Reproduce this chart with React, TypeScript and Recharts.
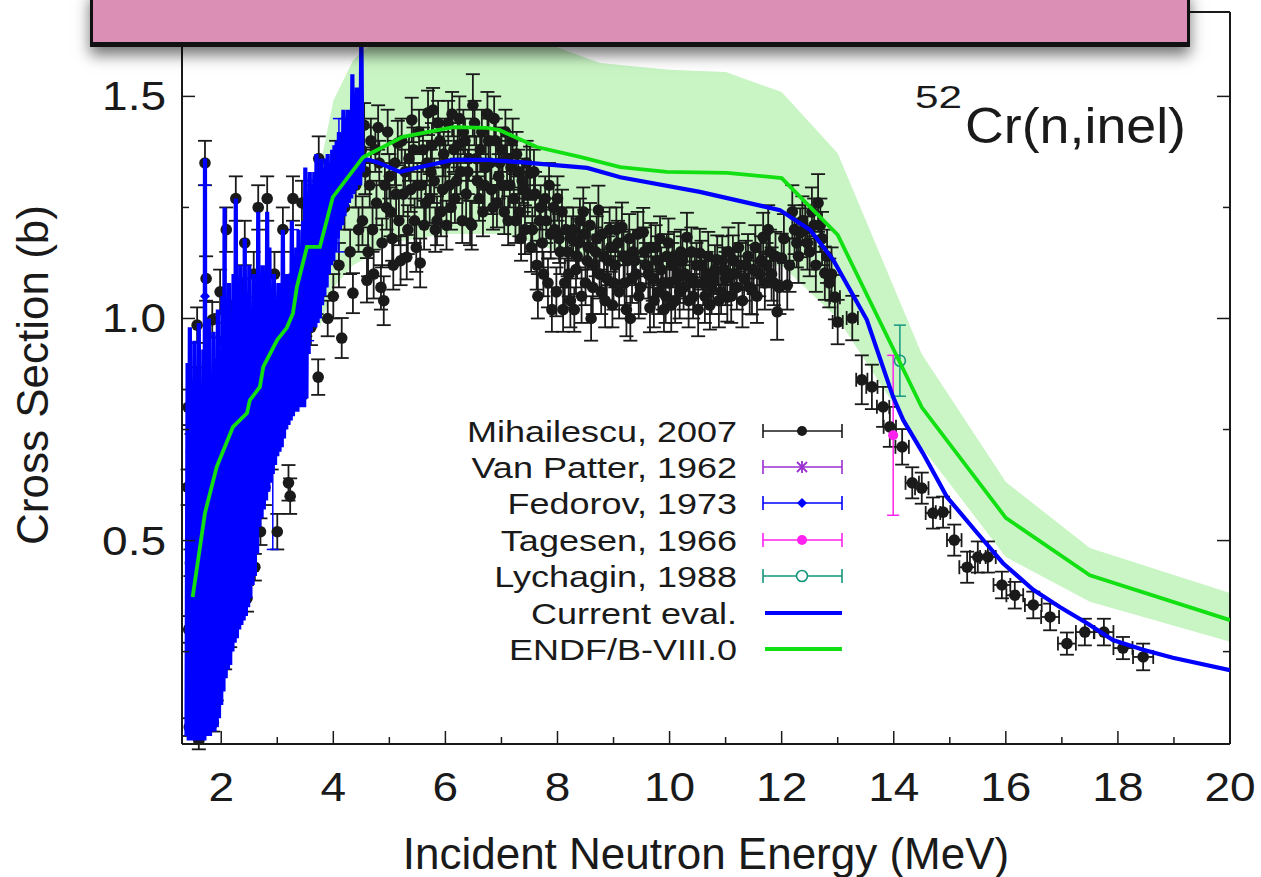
import React from "react";
import {
  Area,
  ComposedChart,
  ErrorBar,
  Legend,
  Line,
  Scatter,
  XAxis,
  YAxis,
} from "recharts";

const FONT = '"Liberation Sans", Arial, Helvetica, sans-serif';
const INK = "#1a1a1a";
const BLUE = "#0000ff";
const GREEN = "#12e012";
const BAND = "#c9f5c5";
const PURPLE = "#9a2fd0";
const MAGENTA = "#ff22ee";
const TEAL = "#14977c";

// axes
const X_DOMAIN = [1.3, 20];
const Y_DOMAIN = [0.042, 1.69];
const X_TICKS = [2, 3, 4, 5, 6, 7, 8, 9, 10, 11, 12, 13, 14, 15, 16, 17, 18, 19, 20];
const X_LABELS = [2, 4, 6, 8, 10, 12, 14, 16, 18, 20];
const Y_TICKS = [0.25, 0.5, 0.75, 1.0, 1.25, 1.5];
const Y_LABELS = [0.5, 1.0, 1.5];

// ENDF/B-VIII.0 uncertainty band
const BAND_E = [3.76, 4.0, 4.35, 4.5, 5.0, 5.5, 6.0, 7.0, 7.6, 8.0, 8.76, 10.0, 11.0, 12.0, 13.0, 14.5, 16.0, 17.5, 20.0];
const BAND_LO = [0.98, 1.07, 1.12, 1.13, 1.17, 1.18, 1.19, 1.19, 1.17, 1.15, 1.13, 1.11, 1.11, 1.12, 1.0, 0.71, 0.463, 0.362, 0.272];
const BAND_HI = [1.34, 1.49, 1.58, 1.6, 1.64, 1.66, 1.69, 1.68, 1.63, 1.61, 1.575, 1.56, 1.555, 1.51, 1.372, 0.92, 0.632, 0.483, 0.382];

// ENDF/B-VIII.0
const ENDF_E = [1.49, 1.71, 1.92, 2.21, 2.46, 2.51, 2.69, 2.75, 3.0, 3.17, 3.28, 3.35, 3.53, 3.76, 3.99, 4.53, 5.24, 6.14, 6.74, 6.97, 7.63, 8.4, 9.12, 9.95, 11.03, 12.0, 13.0, 14.5, 16.0, 17.5, 20.0];
const ENDF_XS = [0.373, 0.562, 0.666, 0.756, 0.787, 0.816, 0.846, 0.891, 0.952, 0.979, 1.012, 1.071, 1.161, 1.161, 1.273, 1.363, 1.409, 1.431, 1.429, 1.424, 1.386, 1.364, 1.341, 1.33, 1.328, 1.316, 1.188, 0.8, 0.551, 0.422, 0.321];

// Current evaluation (fluctuating below 4.5 MeV)
const CUR_E = [
  1.38, 1.4, 1.42, 1.44, 1.46, 1.48, 1.5, 1.52, 1.54, 1.56, 1.58, 1.6, 1.62, 1.64, 1.66, 1.68, 1.7, 1.71, 1.72, 1.74,
  1.76, 1.78, 1.8, 1.82, 1.84, 1.86, 1.88, 1.9, 1.92, 1.94, 1.96, 1.98, 2.0, 2.02, 2.04, 2.06, 2.08, 2.1, 2.12, 2.14,
  2.16, 2.18, 2.2, 2.22, 2.24, 2.26, 2.28, 2.3, 2.32, 2.34, 2.36, 2.38, 2.4, 2.42, 2.44, 2.46, 2.48, 2.5, 2.52, 2.54,
  2.56, 2.58, 2.6, 2.62, 2.64, 2.66, 2.68, 2.7, 2.72, 2.74, 2.76, 2.78, 2.8, 2.82, 2.84, 2.86, 2.88, 2.9, 2.92, 2.94,
  2.96, 2.98, 3.0, 3.02, 3.04, 3.06, 3.08, 3.1, 3.12, 3.14, 3.16, 3.18, 3.2, 3.22, 3.24, 3.26, 3.28, 3.3, 3.32, 3.34,
  3.36, 3.38, 3.4, 3.42, 3.44, 3.46, 3.48, 3.5, 3.52, 3.54, 3.56, 3.58, 3.6, 3.62, 3.64, 3.66, 3.68, 3.7, 3.72, 3.74,
  3.76, 3.78, 3.8, 3.82, 3.84, 3.86, 3.88, 3.9, 3.92, 3.94, 3.96, 3.98, 4.0, 4.02, 4.04, 4.06, 4.08, 4.1, 4.12, 4.14,
  4.16, 4.18, 4.2, 4.22, 4.24, 4.26, 4.28, 4.3, 4.32, 4.34, 4.36, 4.38, 4.4, 4.42, 4.44, 4.46, 4.48, 4.5, 4.52,
  4.55, 4.78, 5.19, 5.55, 6.14, 6.74, 7.33, 8.53, 9.12, 10.54, 11.97, 12.51, 12.92, 13.52, 13.99, 14.17, 14.52, 14.95,
  15.49, 15.95, 16.49, 16.97, 17.45, 17.91, 18.45, 18.98, 20.0,
];
const CUR_XS = [
  0.06, 0.9, 0.05, 0.98, 0.05, 0.76, 0.05, 0.95, 0.05, 0.86, 0.05, 0.99, 0.05, 0.82, 0.05, 0.93, 0.05, 1.36, 0.06, 0.88,
  0.06, 1.0, 0.06, 0.86, 0.07, 0.97, 0.07, 0.91, 0.08, 1.02, 0.1, 0.93, 0.13, 1.05, 0.16, 1.25, 0.19, 0.98, 0.21, 1.08,
  0.22, 0.96, 0.25, 1.1, 0.27, 1.27, 0.28, 1.02, 0.3, 1.12, 0.31, 0.99, 0.32, 1.18, 0.33, 1.05, 0.35, 1.12, 0.37, 0.98,
  0.4, 1.1, 0.42, 1.0, 0.47, 1.24, 0.53, 1.05, 0.55, 1.12, 0.57, 1.02, 0.59, 1.24, 0.61, 1.16, 0.63, 1.03, 0.65, 1.1,
  0.67, 1.0, 0.69, 1.08, 0.7, 1.02, 0.71, 1.2, 0.73, 1.05, 0.75, 1.1, 0.76, 1.04, 0.77, 1.22, 0.78, 1.12, 0.79, 1.16,
  0.79, 1.2, 0.8, 1.16, 0.8, 1.22, 0.8, 1.34, 0.82, 1.27, 0.92, 1.33, 0.97, 1.3, 0.98, 1.33, 0.98, 1.37, 0.99, 1.32,
  1.0, 1.36, 1.03, 1.34, 1.05, 1.36, 1.07, 1.37, 1.1, 1.35, 1.12, 1.38, 1.13, 1.39, 1.15, 1.4, 1.18, 1.42, 1.2, 1.41,
  1.21, 1.47, 1.23, 1.45, 1.25, 1.47, 1.26, 1.47, 1.27, 1.55, 1.28, 1.5, 1.29, 1.52, 1.3, 1.5, 1.3, 1.65, 1.33,
  1.36, 1.352, 1.33, 1.341, 1.357, 1.357, 1.352, 1.339, 1.318, 1.285, 1.244, 1.199, 1.132, 0.997, 0.823, 0.771, 0.697, 0.598,
  0.517, 0.449, 0.389, 0.35, 0.314, 0.276, 0.254, 0.236, 0.208,
];

// Mihailescu, 2007 (below 12.9 MeV, y errors only visible)
const MIH_E = [
  1.4, 1.41, 1.42, 1.43, 1.45, 1.47, 1.5, 1.52, 1.55, 1.57, 1.6, 1.62, 1.65, 1.68, 1.71, 1.73, 1.76, 1.79, 1.82, 1.84,
  1.86, 1.89, 1.92, 1.95, 1.98, 2.01, 2.04, 2.07, 2.09, 2.12, 2.16, 2.19, 2.22, 2.26, 2.3, 2.34, 2.38, 2.42, 2.46, 2.5,
  2.54, 2.58, 2.6, 2.63, 2.66, 2.7, 2.73, 2.78, 2.82, 2.86, 2.9, 2.95, 3.0, 3.05, 3.1, 3.15, 3.2, 3.23, 3.28, 3.33,
  3.38, 3.41, 3.44, 3.5, 3.55, 3.6, 3.65, 3.7, 3.73, 3.74, 3.76, 3.8, 3.85, 3.9, 3.95, 4.0, 4.05, 4.1, 4.15, 4.2,
  4.25, 4.3, 4.35, 4.4, 4.45, 4.5, 4.55, 4.6, 4.65, 4.7, 4.75, 4.8, 4.85, 4.9, 4.95, 5.0, 5.05, 5.1, 5.15, 5.2,
  5.25, 5.31, 5.35, 5.4, 5.45, 5.5, 5.55, 5.6, 5.65, 5.69, 5.74, 5.78, 5.82, 5.85, 5.9, 5.95, 6.0, 6.05, 6.1, 6.15,
  6.2, 6.25, 6.3, 6.35, 6.4, 6.44, 6.49, 6.55, 6.6, 6.65, 6.7, 6.75, 6.8, 6.85, 6.9, 6.95, 7.0, 7.05, 7.1, 7.15,
  7.2, 7.25, 7.3, 7.35, 7.4, 7.45, 7.51, 7.55, 7.6, 7.65, 7.7, 7.75, 7.8, 7.85, 7.9, 7.95, 8.0, 8.05, 8.1, 8.15,
  8.2, 8.25, 8.3, 8.35, 8.4, 8.46, 8.5, 8.55, 8.6, 8.65, 8.7, 8.73, 8.78, 8.83, 8.88, 8.93, 8.98, 9.03, 9.08, 9.15,
  9.2, 9.25, 9.3, 9.35, 9.4, 9.45, 9.53, 9.58, 9.65, 9.7, 9.75, 9.8, 9.85, 9.9, 9.95, 10.0, 10.05, 10.1, 10.15, 10.2,
  10.25, 10.31, 10.36, 10.42, 10.48, 10.54, 10.6, 10.66, 10.72, 10.78, 10.85, 10.92, 10.97, 11.03, 11.08, 11.13, 11.2, 11.27, 11.33, 11.4,
  11.47, 11.53, 11.6, 11.67, 11.73, 11.79, 11.86, 11.92, 12.0, 12.1, 12.19, 12.27, 12.33, 12.42, 12.5, 12.58, 12.65, 12.72, 12.77, 12.85,
];
const MIH_XS = [
  0.62, 0.8, 0.3, 0.08, 0.45, 0.7, 0.12, 0.55, 0.85, 0.985, 0.05, 0.4, 0.75, 0.2, 1.35, 1.09, 0.65, 0.1, 0.5, 0.997,
  0.09, 0.8, 0.16, 0.6, 1.06, 0.7, 0.95, 0.23, 1.2, 0.85, 0.29, 1.0, 0.55, 1.27, 0.9, 0.45, 1.05, 1.17, 0.37, 0.95,
  0.7, 1.1, 0.44, 0.8, 1.25, 0.52, 1.0, 0.62, 1.27, 0.9, 0.7, 1.1, 0.52, 0.85, 1.2, 0.95, 0.63, 0.6, 1.27, 1.05,
  0.9, 0.86, 1.26, 1.0, 1.15, 0.98, 1.25, 1.05, 0.868, 1.36, 1.2, 1.1, 1.3, 1.0, 1.18, 1.05, 1.35, 1.12, 0.956, 1.25,
  1.4, 1.15, 1.057, 1.3, 1.2, 1.38, 1.435, 1.086, 1.3, 1.2, 1.38, 1.43, 1.07, 1.04, 1.25, 1.32, 1.18, 1.35, 1.395, 1.13,
  1.28, 1.138, 1.36, 1.447, 1.22, 1.3, 1.125, 1.38, 1.26, 1.463, 1.33, 1.469, 1.2, 1.22, 1.4, 1.29, 1.35, 1.44, 1.25, 1.38,
  1.31, 1.45, 1.22, 1.4, 1.33, 1.215, 1.48, 1.36, 1.27, 1.42, 1.3, 1.46, 1.35, 1.25, 1.4, 1.32, 1.38, 1.24, 1.36, 1.3,
  1.4, 1.22, 1.33, 1.18, 1.29, 1.35, 1.327, 1.2, 1.28, 1.05, 1.25, 1.1, 1.22, 1.3, 1.02, 1.2, 1.27, 1.15, 1.02, 1.2,
  1.1, 1.18, 1.02, 1.14, 1.22, 1.24, 1.08, 1.16, 1.0, 1.12, 1.18, 1.244, 1.06, 1.14, 1.09, 1.2, 1.03, 1.12, 1.17, 1.206,
  1.08, 1.13, 1.0, 1.15, 1.1, 1.05, 1.194, 1.12, 1.024, 1.09, 1.16, 1.06, 1.11, 1.02, 1.14, 1.08, 1.12, 1.04, 1.1, 1.15,
  1.07, 1.183, 1.09, 1.05, 1.12, 1.147, 1.08, 1.1, 1.03, 1.09, 1.132, 1.06, 1.11, 1.048, 1.1, 1.132, 1.07, 1.12, 1.09, 1.14,
  1.064, 1.16, 1.1, 1.183, 1.12, 1.15, 1.08, 1.015, 1.136, 1.075, 1.24, 1.17, 1.193, 1.2, 1.15, 1.21, 1.26, 1.18, 1.102, 1.08,
];
const MIH_DY = [
  0.04, 0.04, 0.03, 0.02, 0.03, 0.04, 0.02, 0.03, 0.04, 0.04, 0.02, 0.03, 0.04, 0.02, 0.05, 0.05, 0.04, 0.02, 0.03, 0.04,
  0.02, 0.04, 0.02, 0.03, 0.05, 0.04, 0.04, 0.02, 0.05, 0.04, 0.03, 0.04, 0.03, 0.05, 0.04, 0.03, 0.04, 0.05, 0.03, 0.04,
  0.04, 0.05, 0.03, 0.04, 0.05, 0.03, 0.04, 0.04, 0.05, 0.04, 0.04, 0.05, 0.04, 0.04, 0.05, 0.04, 0.04, 0.04, 0.05, 0.05,
  0.04, 0.04, 0.05, 0.04, 0.05, 0.04, 0.05, 0.04, 0.04, 0.05, 0.05, 0.05, 0.05, 0.04, 0.05, 0.05, 0.05, 0.05, 0.045, 0.05,
  0.05, 0.05, 0.045, 0.05, 0.05, 0.05, 0.05, 0.05, 0.05, 0.05, 0.05, 0.05, 0.05, 0.055, 0.05, 0.05, 0.05, 0.05, 0.05, 0.055,
  0.05, 0.05, 0.05, 0.05, 0.05, 0.05, 0.055, 0.05, 0.05, 0.05, 0.05, 0.05, 0.05, 0.055, 0.05, 0.05, 0.05, 0.05, 0.05, 0.05,
  0.05, 0.05, 0.05, 0.05, 0.05, 0.05, 0.07, 0.05, 0.05, 0.05, 0.05, 0.05, 0.05, 0.05, 0.05, 0.05, 0.05, 0.05, 0.05, 0.05,
  0.05, 0.05, 0.05, 0.05, 0.05, 0.05, 0.06, 0.05, 0.05, 0.05, 0.05, 0.05, 0.05, 0.05, 0.05, 0.05, 0.05, 0.05, 0.05, 0.05,
  0.05, 0.05, 0.05, 0.05, 0.05, 0.055, 0.05, 0.05, 0.05, 0.05, 0.05, 0.055, 0.05, 0.05, 0.05, 0.05, 0.05, 0.05, 0.05, 0.055,
  0.05, 0.05, 0.05, 0.05, 0.05, 0.05, 0.055, 0.05, 0.055, 0.05, 0.05, 0.05, 0.05, 0.05, 0.05, 0.05, 0.05, 0.05, 0.05, 0.05,
  0.05, 0.055, 0.05, 0.05, 0.05, 0.055, 0.05, 0.05, 0.055, 0.05, 0.055, 0.05, 0.05, 0.055, 0.05, 0.055, 0.05, 0.05, 0.05, 0.05,
  0.055, 0.05, 0.05, 0.055, 0.05, 0.05, 0.05, 0.063, 0.055, 0.055, 0.06, 0.055, 0.055, 0.055, 0.055, 0.06, 0.065, 0.06, 0.06, 0.055,
];

// Mihailescu, 2007 (second run of points filling the 4.5-12.9 MeV cluster)
const MIH2_E = [
  4.52, 4.57, 4.62, 4.67, 4.72, 4.77, 4.82, 4.87, 4.92, 4.97, 5.02, 5.07, 5.12, 5.17, 5.22, 5.28, 5.33, 5.38, 5.43, 5.48,
  5.53, 5.57, 5.62, 5.67, 5.72, 5.76, 5.8, 5.87, 5.92, 5.97, 6.02, 6.07, 6.12, 6.17, 6.22, 6.27, 6.32, 6.37, 6.42, 6.47,
  6.52, 6.57, 6.62, 6.67, 6.72, 6.77, 6.82, 6.87, 6.92, 6.97, 7.02, 7.07, 7.12, 7.17, 7.22, 7.27, 7.32, 7.37, 7.42, 7.47,
  7.53, 7.58, 7.63, 7.68, 7.73, 7.78, 7.83, 7.88, 7.93, 7.98, 8.03, 8.08, 8.13, 8.18, 8.23, 8.28, 8.33, 8.38, 8.43, 8.48,
  8.53, 8.58, 8.63, 8.68, 8.75, 8.8, 8.85, 8.9, 8.95, 9.0, 9.05, 9.1, 9.18, 9.23, 9.28, 9.33, 9.38, 9.43, 9.48, 9.55,
  9.62, 9.67, 9.72, 9.78, 9.83, 9.88, 9.93, 9.98, 10.03, 10.08, 10.13, 10.18, 10.23, 10.28, 10.34, 10.39, 10.45, 10.51, 10.57, 10.63,
  10.69, 10.75, 10.81, 10.88, 10.94, 11.0, 11.05, 11.1, 11.16, 11.23, 11.3, 11.36, 11.43, 11.5, 11.56, 11.63, 11.7, 11.76, 11.82, 11.89,
  11.96, 12.04, 12.14, 12.23, 12.3, 12.37, 12.46, 12.54, 12.61, 12.69, 12.81, 12.89,
];
const MIH2_XS = [
  1.22, 1.33, 1.15, 1.4, 1.1, 1.26, 1.35, 1.17, 1.3, 1.42, 1.24, 1.12, 1.28, 1.22, 1.4, 1.33, 1.2, 1.29, 1.38, 1.16,
  1.42, 1.3, 1.21, 1.35, 1.27, 1.39, 1.31, 1.44, 1.24, 1.37, 1.21, 1.3, 1.46, 1.27, 1.39, 1.33, 1.42, 1.28, 1.36, 1.21,
  1.44, 1.31, 1.38, 1.24, 1.34, 1.4, 1.29, 1.45, 1.26, 1.35, 1.3, 1.42, 1.22, 1.34, 1.27, 1.37, 1.24, 1.31, 1.2, 1.28,
  1.16, 1.33, 1.12, 1.22, 1.17, 1.27, 1.08, 1.19, 1.25, 1.06, 1.18, 1.24, 1.08, 1.15, 1.04, 1.2, 1.11, 1.17, 1.05, 1.19,
  1.13, 1.21, 1.07, 1.15, 1.1, 1.19, 1.04, 1.13, 1.16, 1.08, 1.2, 1.06, 1.14, 1.02, 1.18, 1.09, 1.13, 1.19, 1.07, 1.15,
  1.1, 1.16, 1.04, 1.13, 1.18, 1.08, 1.05, 1.17, 1.03, 1.14, 1.09, 1.06, 1.13, 1.1, 1.04, 1.15, 1.08, 1.02, 1.12, 1.05,
  1.14, 1.07, 1.11, 1.04, 1.13, 1.09, 1.15, 1.05, 1.1, 1.16, 1.04, 1.12, 1.07, 1.11, 1.05, 1.13, 1.08, 1.2, 1.1, 1.14,
  1.07, 1.18, 1.12, 1.2, 1.14, 1.22, 1.17, 1.24, 1.12, 1.21, 1.14, 1.1,
];
const MIH2_DY = [
  0.055, 0.05, 0.055, 0.05, 0.055, 0.05, 0.05, 0.055, 0.05, 0.05, 0.055, 0.055, 0.05, 0.055, 0.05, 0.05, 0.055, 0.05, 0.05, 0.055,
  0.05, 0.05, 0.055, 0.05, 0.055, 0.05, 0.05, 0.05, 0.055, 0.05, 0.055, 0.05, 0.05, 0.055, 0.05, 0.05, 0.05, 0.055, 0.05, 0.055,
  0.05, 0.05, 0.05, 0.055, 0.05, 0.05, 0.055, 0.05, 0.055, 0.05, 0.05, 0.05, 0.055, 0.05, 0.055, 0.05, 0.055, 0.05, 0.055, 0.05,
  0.055, 0.05, 0.055, 0.055, 0.055, 0.05, 0.055, 0.055, 0.05, 0.055, 0.055, 0.05, 0.055, 0.055, 0.06, 0.05, 0.055, 0.055, 0.06, 0.055,
  0.055, 0.05, 0.06, 0.055, 0.055, 0.05, 0.06, 0.055, 0.055, 0.06, 0.05, 0.06, 0.055, 0.06, 0.055, 0.055, 0.055, 0.05, 0.06, 0.055,
  0.055, 0.055, 0.06, 0.055, 0.05, 0.06, 0.06, 0.055, 0.06, 0.055, 0.055, 0.06, 0.055, 0.055, 0.06, 0.055, 0.06, 0.06, 0.055, 0.06,
  0.055, 0.06, 0.055, 0.06, 0.055, 0.06, 0.055, 0.06, 0.055, 0.055, 0.06, 0.055, 0.06, 0.055, 0.06, 0.055, 0.06, 0.055, 0.06, 0.055,
  0.06, 0.055, 0.06, 0.055, 0.06, 0.055, 0.06, 0.055, 0.06, 0.06, 0.06, 0.06,
];

// Mihailescu, 2007 (high-energy tail with x errors)
const MIHT_E = [12.95, 13.0, 13.26, 13.43, 13.61, 13.81, 13.93, 14.15, 14.33, 14.5, 14.7, 14.88, 15.08, 15.31, 15.5, 15.68, 15.93, 16.16, 16.49, 16.79, 17.09, 17.41, 17.75, 18.09, 18.45];
const MIHT_XS = [1.048, 0.992, 1.001, 0.862, 0.846, 0.801, 0.756, 0.711, 0.63, 0.618, 0.562, 0.564, 0.501, 0.44, 0.463, 0.463, 0.4, 0.377, 0.355, 0.328, 0.268, 0.294, 0.294, 0.258, 0.238];
const MIHT_DY = [0.05, 0.05, 0.05, 0.055, 0.05, 0.045, 0.045, 0.04, 0.035, 0.035, 0.035, 0.035, 0.035, 0.035, 0.035, 0.035, 0.03, 0.03, 0.03, 0.03, 0.025, 0.03, 0.03, 0.025, 0.03];
const MIHT_DX = [0.09, 0.09, 0.1, 0.1, 0.1, 0.11, 0.11, 0.12, 0.12, 0.12, 0.13, 0.13, 0.13, 0.14, 0.14, 0.14, 0.15, 0.15, 0.15, 0.16, 0.16, 0.16, 0.17, 0.17, 0.18];

// other measurements
const VP_E = [2.3, 3.28];
const VP_XS = [0.93, 0.89];
const VP_DY = [0.05, 0.05];
const FED_E = [1.71, 2.3, 2.92, 3.28, 3.55, 4.1];
const FED_XS = [1.05, 0.85, 0.7, 1.0, 1.1, 1.3];
const FED_DY = [0.25, 0.2, 0.22, 0.2, 0.15, 0.15];
const TAG_E = [13.99];
const TAG_XS = [0.737];
const TAG_DY = [0.18];
const LYC_E = [14.11];
const LYC_XS = [0.905];
const LYC_DY = [0.08];

const LEGEND = [
  { name: "Mihailescu, 2007", color: INK, mark: "dot" },
  { name: "Van Patter, 1962", color: PURPLE, mark: "star" },
  { name: "Fedorov, 1973", color: BLUE, mark: "diamond" },
  { name: "Tagesen, 1966", color: MAGENTA, mark: "dot" },
  { name: "Lychagin, 1988", color: TEAL, mark: "ring" },
  { name: "Current eval.", color: BLUE, mark: "line" },
  { name: "ENDF/B-VIII.0", color: GREEN, mark: "line" },
];

const pts = (e: number[], xs: number[], dy?: number[], dx?: number[]) =>
  e.map((v, i) => ({ e: v, xs: xs[i], dy: dy ? dy[i] : 0, dx: dx ? dx[i] : 0 }));

const bandData = BAND_E.map((e, i) => ({ e, band: [BAND_LO[i], BAND_HI[i]] }));
const endfData = pts(ENDF_E, ENDF_XS);
const curData = pts(CUR_E, CUR_XS);
const mihData = pts(MIH_E, MIH_XS, MIH_DY).concat(pts(MIH2_E, MIH2_XS, MIH2_DY));
const mihTailData = pts(MIHT_E, MIHT_XS, MIHT_DY, MIHT_DX);
const vpData = pts(VP_E, VP_XS, VP_DY);
const fedData = pts(FED_E, FED_XS, FED_DY);
const tagData = pts(TAG_E, TAG_XS, TAG_DY);
const lycData = pts(LYC_E, LYC_XS, LYC_DY);

const TICK_FONT = 40;
const STRETCH = 1.15;
const MAJOR = 13;
const MINOR = 7;

function LeftTick(props: any) {
  const { x, y, payload } = props;
  const major = Y_LABELS.includes(payload.value);
  const edge = x + 16;
  return (
    <g>
      <line x1={edge} x2={edge + (major ? MAJOR : MINOR)} y1={y} y2={y} stroke={INK} strokeWidth={1.5} />
      {major && (
        <g transform={`translate(${x} ${y}) scale(${STRETCH} 1)`}>
          <text x={0} y={14} textAnchor="end" fontFamily={FONT} fontSize={TICK_FONT} fill={INK}>
            {payload.value.toFixed(1)}
          </text>
        </g>
      )}
    </g>
  );
}

function RightTick(props: any) {
  const { x, y, payload } = props;
  const major = Y_LABELS.includes(payload.value);
  return <line x1={x - (major ? MAJOR : MINOR)} x2={x} y1={y} y2={y} stroke={INK} strokeWidth={1.5} />;
}

function BottomTick(props: any) {
  const { x, y, payload } = props;
  const major = X_LABELS.includes(payload.value);
  return (
    <g>
      <line x1={x} x2={x} y1={y} y2={y - (major ? MAJOR : MINOR)} stroke={INK} strokeWidth={1.5} />
      {major && (
        <g transform={`translate(${x} ${y + 57}) scale(${STRETCH} 1)`}>
          <text x={0} y={0} textAnchor="middle" fontFamily={FONT} fontSize={TICK_FONT} fill={INK}>
            {payload.value}
          </text>
        </g>
      )}
    </g>
  );
}

function TopTick(props: any) {
  const { x, y, payload } = props;
  const major = X_LABELS.includes(payload.value);
  return <line x1={x} x2={x} y1={y} y2={y + (major ? MAJOR : MINOR)} stroke={INK} strokeWidth={1.5} />;
}

function XTitle(props: any) {
  const { x, y, width } = props.viewBox;
  return (
    <text x={x + width / 2} y={y + 125} textAnchor="middle" fontFamily={FONT} fontSize={44} fill={INK}>
      Incident Neutron Energy (MeV)
    </text>
  );
}

function YTitle(props: any) {
  const { y, height } = props.viewBox;
  const cy = y + height / 2 - 3;
  return (
    <text x={48} y={cy} transform={`rotate(-90 48 ${cy})`} textAnchor="middle" fontFamily={FONT} fontSize={44} fill={INK}>
      Cross Section (b)
    </text>
  );
}

const dot = (color: string, r: number) => (p: any) => <circle cx={p.cx} cy={p.cy} r={r} fill={color} />;

function Ring(p: any) {
  return <circle cx={p.cx} cy={p.cy} r={5.5} fill="none" stroke={TEAL} strokeWidth={1.6} />;
}

function Star(p: any) {
  const { cx, cy } = p;
  const s = 5;
  return (
    <g stroke={PURPLE} strokeWidth={1.8}>
      <line x1={cx - s} y1={cy - s} x2={cx + s} y2={cy + s} />
      <line x1={cx - s} y1={cy + s} x2={cx + s} y2={cy - s} />
      <line x1={cx} y1={cy - s - 1} x2={cx} y2={cy + s + 1} />
    </g>
  );
}

function Diamond(p: any) {
  const { cx, cy } = p;
  const s = 5;
  return <path d={`M${cx},${cy - s}L${cx + s},${cy}L${cx},${cy + s}L${cx - s},${cy}Z`} fill={BLUE} />;
}

function KeyBox() {
  const rowY = [26, 62, 98, 135, 171, 208, 244];
  const textRight = 297;
  const x1 = 323;
  const x2 = 402;
  const mid = 362;
  return (
    <svg width={420} height={270} style={{ overflow: "visible" }}>
      {LEGEND.map((item, i) => {
        const y = rowY[i];
        return (
          <g key={item.name}>
            <g transform={`translate(${textRight} ${y + 11}) scale(1.2 1)`}>
              <text x={0} y={0} textAnchor="end" fontFamily={FONT} fontSize={30} fill={INK}>
                {item.name}
              </text>
            </g>
            {item.mark === "line" ? (
              <line x1={x1 + 2} x2={x2} y1={y} y2={y} stroke={item.color} strokeWidth={4} />
            ) : (
              <g stroke={item.color} strokeWidth={1.6}>
                <line x1={x1} x2={x2} y1={y} y2={y} />
                <line x1={x1} x2={x1} y1={y - 7} y2={y + 7} />
                <line x1={x2} x2={x2} y1={y - 7} y2={y + 7} />
                {item.mark === "dot" && <circle cx={mid} cy={y} r={5} fill={item.color} stroke="none" />}
                {item.mark === "ring" && <circle cx={mid} cy={y} r={5.5} fill="#fff" />}
                {item.mark === "diamond" && (
                  <path d={`M${mid},${y - 5}L${mid + 5},${y}L${mid},${y + 5}L${mid - 5},${y}Z`} fill={item.color} stroke="none" />
                )}
                {item.mark === "star" && (
                  <g strokeWidth={1.8}>
                    <line x1={mid - 5} y1={y - 5} x2={mid + 5} y2={y + 5} />
                    <line x1={mid - 5} y1={y + 5} x2={mid + 5} y2={y - 5} />
                    <line x1={mid} y1={y - 6} x2={mid} y2={y + 6} />
                  </g>
                )}
              </g>
            )}
          </g>
        );
      })}
    </svg>
  );
}

export default function App() {
  return (
    <div style={{ position: "absolute", left: 0, top: 0, width: 1261, height: 877, background: "#fff", overflow: "hidden" }}>
      <ComposedChart width={1261} height={877} data={bandData} margin={{ top: 0, right: 0, bottom: 0, left: 0 }}>
        <XAxis
          type="number"
          dataKey="e"
          domain={X_DOMAIN}
          ticks={X_TICKS}
          interval={0}
          allowDataOverflow
          height={133}
          tickSize={0}
          tickMargin={0}
          tickLine={false}
          tick={<BottomTick />}
          axisLine={{ stroke: INK, strokeWidth: 2 }}
          label={<XTitle />}
        />
        <XAxis
          xAxisId="top"
          orientation="top"
          type="number"
          dataKey="e"
          domain={X_DOMAIN}
          ticks={X_TICKS}
          interval={0}
          allowDataOverflow
          height={12}
          tickSize={0}
          tickMargin={0}
          tickLine={false}
          tick={<TopTick />}
          axisLine={{ stroke: INK, strokeWidth: 2 }}
        />
        <YAxis
          type="number"
          domain={Y_DOMAIN}
          ticks={Y_TICKS}
          interval={0}
          allowDataOverflow
          width={182}
          tickSize={0}
          tickMargin={16}
          tickLine={false}
          tick={<LeftTick />}
          axisLine={{ stroke: INK, strokeWidth: 2 }}
          label={<YTitle />}
        />
        <YAxis
          yAxisId="right"
          orientation="right"
          type="number"
          domain={Y_DOMAIN}
          ticks={Y_TICKS}
          interval={0}
          allowDataOverflow
          width={31}
          tickSize={0}
          tickMargin={0}
          tickLine={false}
          tick={<RightTick />}
          axisLine={{ stroke: INK, strokeWidth: 2 }}
        />

        <Area dataKey="band" type="linear" stroke="none" fill={BAND} fillOpacity={1} dot={false} activeDot={false} isAnimationActive={false} />

        <Scatter data={mihData} dataKey="xs" shape={dot(INK, 5.8)} isAnimationActive={false}>
          <ErrorBar dataKey="dy" direction="y" width={7} stroke={INK} strokeWidth={1.8} />
        </Scatter>
        <Scatter data={mihTailData} dataKey="xs" shape={dot(INK, 5.8)} isAnimationActive={false}>
          <ErrorBar dataKey="dy" direction="y" width={7} stroke={INK} strokeWidth={1.8} />
          <ErrorBar dataKey="dx" direction="x" width={7} stroke={INK} strokeWidth={1.8} />
        </Scatter>
        <Scatter data={vpData} dataKey="xs" shape={<Star />} isAnimationActive={false}>
          <ErrorBar dataKey="dy" direction="y" width={6} stroke={PURPLE} strokeWidth={1.5} />
        </Scatter>
        <Scatter data={fedData} dataKey="xs" shape={<Diamond />} isAnimationActive={false}>
          <ErrorBar dataKey="dy" direction="y" width={6} stroke={BLUE} strokeWidth={1.5} />
        </Scatter>
        <Scatter data={tagData} dataKey="xs" shape={dot(MAGENTA, 5)} isAnimationActive={false}>
          <ErrorBar dataKey="dy" direction="y" width={6} stroke={MAGENTA} strokeWidth={1.5} />
        </Scatter>
        <Scatter data={lycData} dataKey="xs" shape={<Ring />} isAnimationActive={false}>
          <ErrorBar dataKey="dy" direction="y" width={6} stroke={TEAL} strokeWidth={1.5} />
        </Scatter>

        <Line
          data={curData}
          dataKey="xs"
          type="linear"
          stroke={BLUE}
          strokeWidth={4.2}
          dot={false}
          activeDot={false}
          isAnimationActive={false}
          zIndex={700}
        />
        <Line
          data={endfData}
          dataKey="xs"
          type="linear"
          stroke={GREEN}
          strokeWidth={3.8}
          dot={false}
          activeDot={false}
          isAnimationActive={false}
          zIndex={710}
        />

        <Legend
          layout="vertical"
          align="center"
          verticalAlign="middle"
          content={() => <KeyBox />}
          wrapperStyle={{ left: 440, top: 405, width: 420, height: 270 }}
        />
      </ComposedChart>

      <svg width={1261} height={877} style={{ position: "absolute", left: 0, top: 0, pointerEvents: "none" }}>
        <text x={915} y={108} fontFamily={FONT} fontSize={32} fill={INK} textLength={47} lengthAdjust="spacingAndGlyphs">
          52
        </text>
        <text x={965} y={143} fontFamily={FONT} fontSize={50} fill={INK} textLength={221} lengthAdjust="spacingAndGlyphs">
          Cr(n,inel)
        </text>
      </svg>

      <div
        style={{
          position: "absolute",
          left: 90,
          top: -10,
          width: 1100,
          height: 57,
          boxSizing: "border-box",
          background: "#dc8fb4",
          borderLeft: "3px solid #111",
          borderRight: "3px solid #111",
          borderBottom: "5px solid #111",
          boxShadow: "0 8px 14px rgba(0,0,0,0.55)",
        }}
      />
    </div>
  );
}
